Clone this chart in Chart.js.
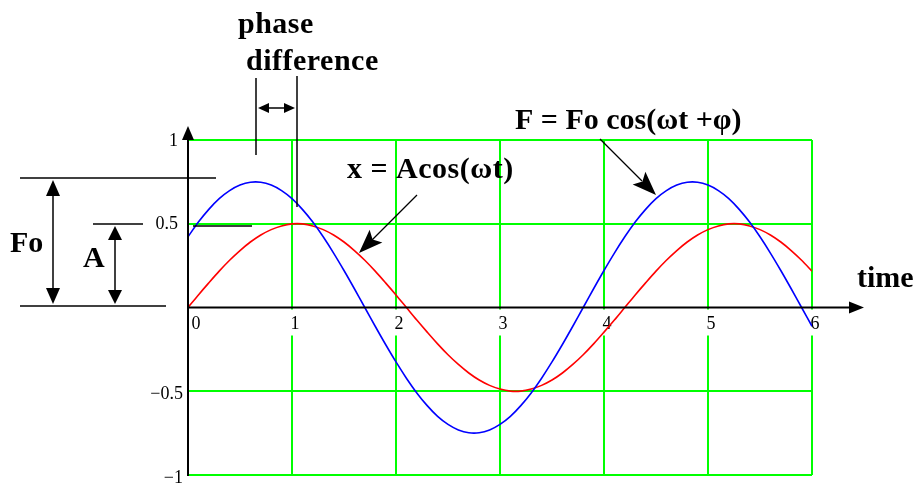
<!DOCTYPE html>
<html>
<head>
<meta charset="utf-8">
<script src="https://cdn.jsdelivr.net/npm/chart.js@4.4.1/dist/chart.umd.min.js"></script>
<style>
  body { margin: 0; background: #fff; }
  canvas { display: block; }
</style>
</head>
<body>
<canvas id="wave" width="914" height="484"></canvas>
<script>
// Sample times (s)
const times = [
  0, 0.1, 0.2, 0.3, 0.4, 0.5, 0.6, 0.7, 0.8, 0.9,
  1, 1.1, 1.2, 1.3, 1.4, 1.5, 1.6, 1.7, 1.8, 1.9,
  2, 2.1, 2.2, 2.3, 2.4, 2.5, 2.6, 2.7, 2.8, 2.9,
  3, 3.1, 3.2, 3.3, 3.4, 3.5, 3.6, 3.7, 3.8, 3.9,
  4, 4.1, 4.2, 4.3, 4.4, 4.5, 4.6, 4.7, 4.8, 4.9,
  5, 5.1, 5.2, 5.3, 5.4, 5.5, 5.6, 5.7, 5.8, 5.9, 6
];

// Driving force F = Fo cos(wt + phi), blue
const forceValues = [
  0.422, 0.510, 0.586, 0.650, 0.698, 0.731, 0.748, 0.748, 0.731, 0.698,
  0.650, 0.586, 0.510, 0.422, 0.325, 0.221, 0.112, 0, -0.112, -0.221,
  -0.325, -0.422, -0.510, -0.586, -0.650, -0.698, -0.731, -0.748, -0.748, -0.731,
  -0.698, -0.650, -0.586, -0.510, -0.422, -0.325, -0.221, -0.112, 0, 0.112,
  0.221, 0.325, 0.422, 0.510, 0.586, 0.650, 0.698, 0.731, 0.748, 0.748,
  0.731, 0.698, 0.650, 0.586, 0.510, 0.422, 0.325, 0.221, 0.112, 0, -0.112
];

// Displacement x = A cos(wt), red
const dispValues = [
  0, 0.075, 0.147, 0.217, 0.282, 0.340, 0.391, 0.433, 0.465, 0.487,
  0.499, 0.499, 0.487, 0.465, 0.433, 0.391, 0.340, 0.282, 0.217, 0.147,
  0.075, 0, -0.075, -0.147, -0.217, -0.282, -0.340, -0.391, -0.433, -0.465,
  -0.487, -0.499, -0.499, -0.487, -0.465, -0.433, -0.391, -0.340, -0.282, -0.217,
  -0.147, -0.075, 0, 0.075, 0.147, 0.217, 0.282, 0.340, 0.391, 0.433,
  0.465, 0.487, 0.499, 0.499, 0.487, 0.465, 0.433, 0.391, 0.340, 0.282, 0.217
];

const xTickValues = [0, 1, 2, 3, 4, 5, 6];
const yTickValues = [1, 0.5, -0.5, -1];
const yTickLabels = ["1", "0.5", "\u22120.5", "\u22121"];

const serif = '"Liberation Serif", "Times New Roman", serif';

function line(ctx, x1, y1, x2, y2) {
  ctx.beginPath();
  ctx.moveTo(x1, y1);
  ctx.lineTo(x2, y2);
  ctx.stroke();
}

// filled head with its tip at (tx, ty), pointing away from (fx, fy)
function arrowHead(ctx, tx, ty, fx, fy, len, half, notch) {
  const a = Math.atan2(ty - fy, tx - fx);
  ctx.save();
  ctx.translate(tx, ty);
  ctx.rotate(a);
  ctx.beginPath();
  ctx.moveTo(0, 0);
  ctx.lineTo(-len, -half);
  ctx.lineTo(-len * (notch || 1), 0);
  ctx.lineTo(-len, half);
  ctx.closePath();
  ctx.fill();
  ctx.restore();
}

const tickLabels = {
  id: "tickLabels",
  beforeDatasetsDraw(chart) {
    const ctx = chart.ctx;
    const xs = chart.scales.x, ys = chart.scales.y;
    const y0 = ys.getPixelForValue(0);
    ctx.save();
    ctx.font = "18px " + serif;
    ctx.textBaseline = "middle";
    ctx.textAlign = "center";
    xTickValues.forEach(v => {
      const px = xs.getPixelForValue(v) + (v === 0 ? 8 : 3);
      ctx.fillStyle = "#fff";
      ctx.fillRect(px - 6, y0 + 2, 12, 26);
      ctx.fillStyle = "#000";
      ctx.fillText(String(v), px, y0 + 17);
    });
    ctx.textAlign = "right";
    yTickValues.forEach((v, i) => {
      const neg = v < 0;
      ctx.fillText(yTickLabels[i], xs.left - (neg ? 5 : 10), ys.getPixelForValue(v) + (neg ? 3 : 1));
    });
    ctx.restore();
  }
};

const annotations = {
  id: "annotations",
  afterDatasetsDraw(chart) {
    const ctx = chart.ctx;
    const xs = chart.scales.x, ys = chart.scales.y;
    const x0 = xs.getPixelForValue(0);
    const y0 = ys.getPixelForValue(0);
    ctx.save();
    ctx.strokeStyle = "#000";
    ctx.fillStyle = "#000";

    // axes
    ctx.lineWidth = 2;
    line(ctx, x0, ys.bottom + 1, x0, 138);
    arrowHead(ctx, x0, 126, x0, 200, 14, 6);
    line(ctx, x0, y0, 852, y0);
    arrowHead(ctx, 864, y0, 800, y0, 15, 6);

    // amplitude markers on the left
    ctx.lineWidth = 1.5;
    line(ctx, 20, 178, 216, 178);
    line(ctx, 20, 306, 166, 306);
    line(ctx, 93, 224, 143, 224);
    line(ctx, 193, 226, 252, 226);
    line(ctx, 53, 190, 53, 294);
    arrowHead(ctx, 53, 180, 53, 250, 16, 7);
    arrowHead(ctx, 53, 304, 53, 250, 16, 7);
    line(ctx, 115, 236, 115, 294);
    arrowHead(ctx, 115, 226, 115, 270, 14, 7);
    arrowHead(ctx, 115, 304, 115, 270, 14, 7);

    // phase difference bracket
    line(ctx, 256, 78, 256, 155);
    line(ctx, 297, 76, 297, 207);
    line(ctx, 266, 108, 286, 108);
    arrowHead(ctx, 258, 108, 280, 108, 11, 5);
    arrowHead(ctx, 295, 108, 270, 108, 11, 5);

    // pointers to the curves
    ctx.lineWidth = 1.2;
    line(ctx, 417, 195, 372, 240);
    arrowHead(ctx, 359, 253, 417, 195, 24, 9, 0.8);
    line(ctx, 600, 139, 642, 181);
    arrowHead(ctx, 656, 195, 600, 139, 24, 9, 0.8);

    // text
    ctx.font = "bold 30px " + serif;
    ctx.textBaseline = "alphabetic";
    ctx.textAlign = "left";
    ctx.letterSpacing = "0.5px";
    ctx.fillText("phase", 238, 33);
    ctx.fillText("difference", 246, 70);
    ctx.fillText("x = Acos(\u03c9t)", 347, 178);
    ctx.letterSpacing = "0px";
    ctx.fillText("F = Fo cos(\u03c9t +\u03c6)", 515, 129);
    ctx.fillText("time", 857, 287);
    ctx.fillText("Fo", 10, 252);
    ctx.fillText("A", 83, 267);
    ctx.restore();
  }
};

const gridColor = c => (c.tick && c.tick.value === 0) ? "rgba(0,0,0,0)" : "#00ff00";

new Chart(document.getElementById("wave").getContext("2d"), {
  type: "line",
  data: {
    datasets: [
      {
        label: "F",
        data: times.map((t, i) => ({ x: t, y: forceValues[i] })),
        borderColor: "#0000ff",
        borderWidth: 1.6,
        pointRadius: 0,
        tension: 0.3
      },
      {
        label: "x",
        data: times.map((t, i) => ({ x: t, y: dispValues[i] })),
        borderColor: "#ff0000",
        borderWidth: 1.6,
        pointRadius: 0,
        tension: 0.3
      }
    ]
  },
  options: {
    responsive: false,
    animation: false,
    devicePixelRatio: 1,
    layout: { padding: { left: 188, right: 102, top: 140, bottom: 9 } },
    scales: {
      x: {
        type: "linear",
        min: 0,
        max: 6,
        ticks: { stepSize: 1, display: false },
        border: { display: false },
        grid: { color: gridColor, lineWidth: 2, drawTicks: false }
      },
      y: {
        min: -1,
        max: 1,
        ticks: { stepSize: 0.5, display: false },
        border: { display: false },
        grid: { color: gridColor, lineWidth: 2, drawTicks: false }
      }
    },
    plugins: {
      legend: { display: false },
      tooltip: { enabled: false }
    }
  },
  plugins: [tickLabels, annotations]
});
</script>
</body>
</html>
